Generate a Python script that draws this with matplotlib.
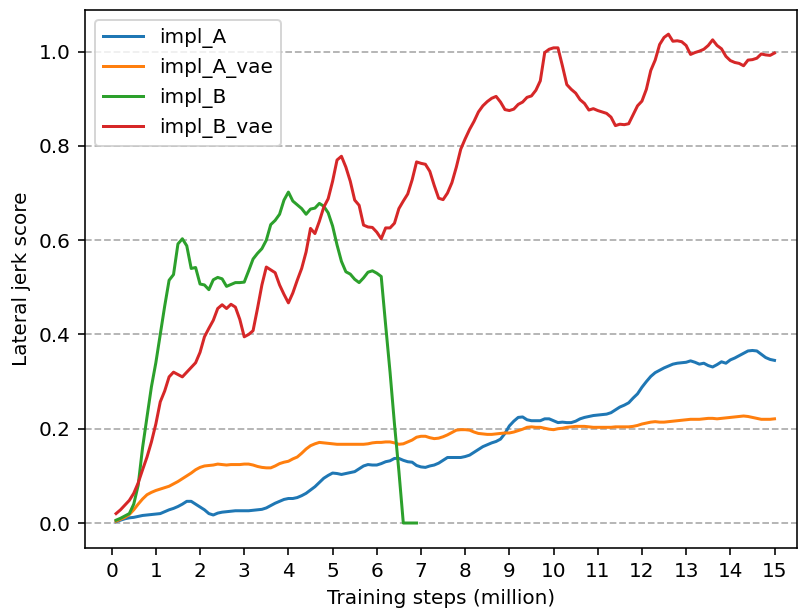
import matplotlib
matplotlib.use('Agg')
import matplotlib.pyplot as plt
import numpy as np

# lateral jerk score per 0.1M training steps
impl_A = [
    .003, .006, .009, .011, .012, .014, .016, .017, .018, .019,
    .020, .024, .028, .031, .035, .040, .046, .046, .040, .034,
    .028, .020, .017, .021, .023, .024, .025, .026, .026, .026,
    .026, .027, .028, .029, .032, .037, .042, .046, .050, .052,
    .052, .054, .058, .063, .070, .077, .086, .095, .101, .106,
    .105, .103, .105, .107, .109, .115, .121, .124, .123, .123,
    .126, .130, .132, .137, .137, .133, .130, .129, .122, .119,
    .118, .121, .123, .127, .133, .139, .139, .139, .139, .141,
    .144, .150, .156, .162, .166, .170, .173, .178, .190, .206,
    .216, .224, .225, .219, .217, .217, .217, .221, .221, .217,
    .213, .214, .213, .213, .216, .221, .224, .226, .228, .229,
    .230, .231, .234, .240, .246, .250, .255, .265, .274, .288,
    .300, .311, .319, .324, .329, .333, .337, .339, .340, .341,
    .344, .341, .337, .339, .334, .331, .336, .342, .339, .346,
    .350, .355, .360, .365, .366, .365, .358, .351, .347, .345,
]
impl_A_vae = [
    .004, .008, .012, .018, .028, .040, .051, .060, .065, .069,
    .072, .075, .078, .083, .088, .094, .100, .106, .113, .118,
    .121, .122, .123, .125, .124, .123, .124, .124, .124, .125,
    .125, .123, .120, .118, .117, .117, .121, .126, .129, .131,
    .136, .140, .148, .157, .164, .168, .171, .170, .169, .168,
    .167, .167, .167, .167, .167, .167, .167, .168, .170, .171,
    .171, .172, .172, .170, .167, .168, .172, .176, .182, .184,
    .184, .181, .179, .180, .183, .187, .192, .197, .198, .198,
    .197, .193, .190, .189, .188, .188, .189, .190, .191, .191,
    .193, .196, .199, .203, .204, .203, .203, .201, .199, .198,
    .200, .201, .203, .204, .205, .205, .205, .204, .203, .203,
    .203, .203, .203, .204, .204, .204, .204, .205, .207, .210,
    .212, .214, .215, .214, .214, .215, .216, .217, .218, .219,
    .220, .220, .220, .221, .222, .222, .221, .222, .223, .224,
    .225, .226, .227, .226, .224, .222, .220, .220, .220, .221,
]
impl_B = [
    .006, .010, .015, .020, .040, .080, .160, .225, .289, .340,
    .400, .460, .515, .527, .592, .603, .588, .540, .542, .507,
    .505, .495, .516, .521, .518, .502, .506, .510, .510, .511,
    .535, .560, .572, .582, .600, .633, .642, .655, .685, .702,
    .683, .675, .667, .655, .666, .668, .678, .672, .658, .630,
    .590, .555, .533, .528, .517, .510, .520, .532, .535, .530,
    .523, .420, .320, .210, .110, 0.0, 0.0, 0.0, 0.0,
]
impl_B_vae = [
    .020, .028, .038, .048, .063, .085, .113, .140, .172, .210,
    .257, .280, .310, .320, .315, .310, .320, .330, .340, .362,
    .395, .413, .430, .455, .463, .455, .464, .458, .432, .395,
    .400, .408, .455, .505, .543, .537, .531, .505, .485, .467,
    .488, .515, .540, .575, .625, .614, .640, .670, .688, .725,
    .770, .778, .755, .725, .685, .674, .632, .628, .627, .617,
    .603, .626, .626, .636, .667, .683, .698, .728, .766, .763,
    .761, .746, .716, .689, .686, .700, .722, .755, .793, .815,
    .835, .852, .872, .885, .894, .901, .905, .893, .877, .875,
    .878, .888, .893, .903, .906, .918, .938, .998, 1.005, 1.008,
    1.008, .970, .930, .920, .912, .898, .890, .876, .879, .875,
    .872, .869, .861, .843, .846, .845, .847, .866, .885, .895,
    .920, .960, .982, 1.015, 1.030, 1.037, 1.022, 1.023, 1.021, 1.013,
    .994, .998, 1.001, 1.005, 1.013, 1.025, 1.013, 1.006, .990, .981,
    .977, .975, .970, .982, .983, .986, .995, .993, .992, .997,
]
series = [('impl_A', impl_A), ('impl_A_vae', impl_A_vae),
          ('impl_B', impl_B), ('impl_B_vae', impl_B_vae)]

dpi = 144
fig = plt.figure(figsize=(799/dpi, 614/dpi), dpi=dpi)
ax = fig.add_axes([0.106, 0.1075, 0.891, 0.876])

for name, vals in series:
    steps = np.round(np.arange(1, len(vals) + 1) * 0.1, 1)
    ax.plot(steps, vals, label=name)

ax.set_xlim(-0.61, 15.5)
ax.set_ylim(-0.053, 1.088)
ax.set_xticks(range(0, 16))
ax.set_yticks([0.0, 0.2, 0.4, 0.6, 0.8, 1.0])
ax.grid(axis='y', linestyle='--', color='#b0b0b0', linewidth=0.9)
ax.set_axisbelow(True)
ax.set_xlabel('Training steps (million)')
ax.set_ylabel('Lateral jerk score')
ax.legend(loc='upper left')

fig.savefig('out.png', dpi=dpi)
